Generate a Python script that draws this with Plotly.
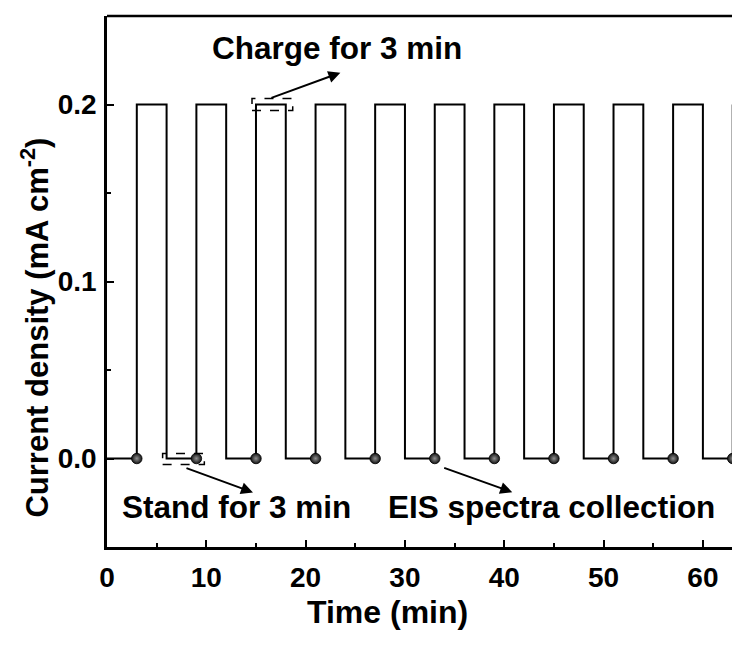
import plotly.graph_objects as go

# Data
step_times = [0, 3, 6, 9, 12, 15, 18, 21, 24, 27, 30, 33, 36, 39, 42, 45, 48, 51, 54, 57, 60, 63]
step_current = [0, 0.2, 0, 0.2, 0, 0.2, 0, 0.2, 0, 0.2, 0, 0.2, 0, 0.2, 0, 0.2, 0, 0.2, 0, 0.2, 0, 0.2]
eis_times = [3, 9, 15, 21, 27, 33, 39, 45, 51, 57, 63]
eis_current = [0, 0, 0, 0, 0, 0, 0, 0, 0, 0, 0]

FONT = "Liberation Sans, Arial, sans-serif"

fig = go.Figure()
fig.add_trace(go.Scatter(x=step_times, y=step_current, mode="lines",
                         line=dict(color="black", width=2, shape="hv"),
                         showlegend=False, hoverinfo="skip"))
fig.add_trace(go.Scatter(x=eis_times, y=eis_current, mode="markers",
                         marker=dict(size=10.5, color="#141414",
                                     gradient=dict(type="radial", color="#909090"),
                                     line=dict(color="black", width=0.8)),
                         showlegend=False, hoverinfo="skip"))

# dashed boxes
fig.add_shape(type="rect", x0=14.6, x1=18.7, y0=0.1966, y1=0.2034,
              line=dict(color="black", width=1.5, dash="dash"))
fig.add_shape(type="rect", x0=5.6, x1=9.8, y0=-0.0034, y1=0.0028,
              line=dict(color="black", width=1.5, dash="dash"))
# top border
fig.add_shape(type="line", xref="paper", yref="paper", x0=0, x1=1, y0=1, y1=1,
              line=dict(color="black", width=2.5))

arrow_common = dict(showarrow=True, arrowhead=2, arrowsize=1.2, arrowwidth=2,
                    arrowcolor="black", axref="x", ayref="y", text="")
fig.add_annotation(x=23.5, y=0.218, ax=16.4, ay=0.2034, **arrow_common)
fig.add_annotation(x=14.7, y=-0.0192, ax=7.85, ay=-0.0051, **arrow_common)
fig.add_annotation(x=40.8, y=-0.019, ax=33.8, ay=-0.005, **arrow_common)

tfont = dict(family=FONT, size=31.5, color="black", weight="bold")
fig.add_annotation(x=23.2, y=0.232, text="Charge for 3 min", showarrow=False, font=tfont)
fig.add_annotation(x=13.0, y=-0.0276, text="Stand for 3 min", showarrow=False, font=tfont)
fig.add_annotation(x=44.8, y=-0.0276, text="EIS spectra collection", showarrow=False, font=tfont)

# axis titles (positioned like the original, offset from the cropped plot centre)
fig.add_annotation(xref="paper", yref="paper", x=0.448, y=-0.1224,
                   xanchor="center", yanchor="middle",
                   text="Time (min)", showarrow=False,
                   font=dict(family=FONT, size=32, color="black", weight="bold"))
fig.add_annotation(xref="paper", yref="y", x=-0.1152, y=0.074, textangle=-90,
                   xanchor="center", yanchor="middle",
                   text="Current density (mA cm<sup>-2</sup>)", showarrow=False,
                   font=dict(family=FONT, size=31, color="black", weight="bold"))

axis_common = dict(showline=True, linecolor="black", linewidth=2.5, ticks="inside",
                   tickcolor="black", tickwidth=2, ticklen=7, showgrid=False, zeroline=False,
                   tickfont=dict(family=FONT, size=28, color="black", weight="bold"))

fig.update_xaxes(range=[0, 62.93], dtick=10, tick0=0, ticklabelstandoff=4,
                 minor=dict(dtick=5, ticks="inside", ticklen=4, tickcolor="black", tickwidth=2),
                 **axis_common)
fig.update_yaxes(range=[-0.05, 0.25], dtick=0.1, tick0=0, tickformat=".1f", ticklabelstandoff=2,
                 minor=dict(dtick=0.05, ticks="inside", ticklen=4, tickcolor="black", tickwidth=2),
                 **axis_common)

fig.update_layout(width=732, height=646, margin=dict(l=107, r=0, t=16, b=99),
                  plot_bgcolor="white", paper_bgcolor="white")

fig.write_html("out.html")
